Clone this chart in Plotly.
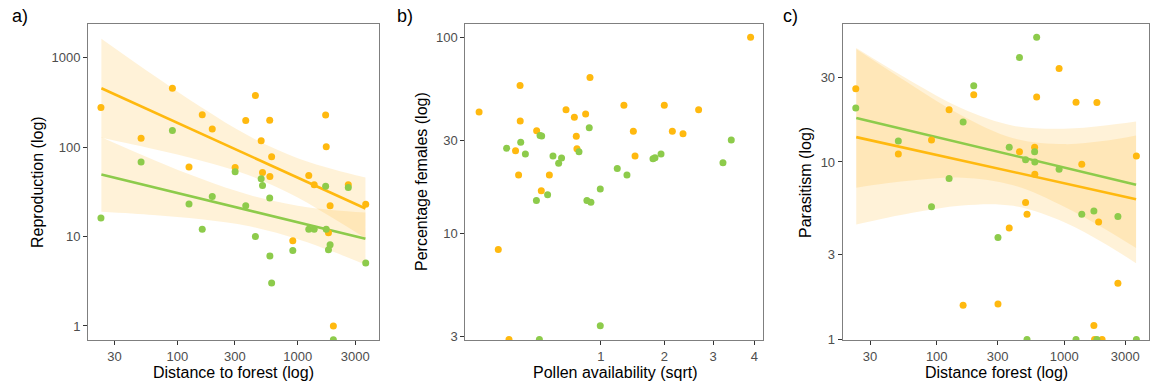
import numpy as np
import plotly.graph_objects as go

# ---------------- data ----------------
# sites (distance to forest, m)
distance = [23.2, 50, 91, 125, 161, 195, 302, 370, 445, 497, 510, 585, 587, 607,
            910, 1235, 1370, 1705, 1725, 1800, 1857, 1977, 2630, 3670]

# panel a: reproduction
repro_orange = [277, 126, 456, 59.8, 230, 159, 59.3, 199, 378, 118, 52.1, 200, 47, 78,
                8.98, 48.2, 37.9, 228, 101, 11.0, 22.1, 1.0, 37.9, 23]
repro_green = [16.1, 68, 153, 23.1, 12.1, 28.1, 53, 22.1, 10, 44.3, 37.3, 26.9, 6.05, 3.02,
               7.0, 12.1, 12.1, 36.4, 12.1, 7.1, 8.1, 0.70, 35.4, 5.06]

# panel c: parasitism
paras_orange = [25.8, 11.1, 13.3, 19.7, 1.56, 23.9, 1.585, 4.25, 11.4, 5.9, 5.07, 12.1, 8.53, 23.2,
                33.6, 21.7, 9.7, 1.2, 1.0, 21.6, 4.59, 1.0, 2.07, 10.8]
paras_green = [20.1, 13.1, 5.6, 8.06, 16.8, 26.9, 3.75, 12.1, 38.7, 10.3, 1.0, 11.4, 10.0, 50.4,
               9.1, 1.0, 5.07, 5.3, None, 1.0, None, None, 4.92, 1.0]

# panel b: pollen availability vs percentage females
pollen_orange = [0.042, 0.109, 0.160, 0.196, 0.214, 0.223, 0.224, 0.337, 0.373, 0.440, 0.596, 0.683,
                 0.704, 0.711, 0.810, 0.862, 1.322, 1.467, 1.494, 1.997, 2.148, 2.357, 2.680, 3.905]
females_orange = [41.7, 8.32, 2.9, 26.5, 19.95, 56.9, 37.5, 33.5, 16.6, 19.95, 42.8, 39.2,
                  31.4, 27.1, 40.8, 62.4, 45.2, 33.3, 24.9, 45.2, 33.3, 32.3, 42.8, 100]
pollen_green = [0.148, 0.227, 0.257, 0.335, 0.358, 0.363, 0.376, 0.425, 0.472, 0.524, 0.552, 0.734,
                0.825, 0.853, 0.873, 0.991, 0.991, 1.224, 1.368, 1.794, 1.829, 1.937, 3.225, 3.423]
females_green = [27.3, 29.3, 25.5, 14.8, 2.9, 31.7, 31.5, 15.8, 24.9, 22.9, 24.3, 26.2,
                 14.8, 34.7, 14.5, 16.9, 3.41, 21.5, 19.95, 24.1, 24.4, 25.5, 23.0, 30.0]

# fitted lines and confidence bands
fit_x = [23.4, 3650]
band_x = [23.4, 63, 158, 398, 1000, 2000, 3650]

fit_a_orange = [455, 20.6]
band_a_orange_hi = [1633, 640, 279, 132, 75.3, 56.2, 45.6]
band_a_orange_lo = [127, 95, 70.6, 48.2, 27.4, 15.8, 9.6]
fit_a_green = [49.3, 9.45]
band_a_green_hi = [129, 72.4, 44.2, 29.1, 22.1, 19.7, 18.6]
band_a_green_lo = [18.9, 17.4, 15.6, 13.0, 9.35, 6.7, 4.85]

fit_c_orange = [13.8, 6.17]
band_c_orange_hi = [43.2, 27.2, 18.2, 13.6, 12.6, 13.1, 14.1]
band_c_orange_lo = [4.44, 5.15, 5.69, 5.66, 4.58, 3.52, 2.69]
fit_c_green = [17.7, 7.45]
band_c_green_hi = [43.8, 28.5, 20.0, 16.0, 15.4, 16.0, 16.9]
band_c_green_lo = [7.16, 7.85, 8.15, 7.40, 5.60, 4.26, 3.27]

dist_ticks = [30, 100, 300, 1000, 3000]
pollen_ticks = [1, 2, 3, 4]

# ---------------- styles ----------------
ORANGE = "#FFB90F"
GREEN = "#8DCB4B"
BAND = "rgba(255,190,60,0.20)"
FONT = "Liberation Sans, Arial, sans-serif"
TICKCOL = "#4D4D4D"
W, H = 1150, 387

fig = go.Figure()


def add_band(xa, ya, xs, lo, hi):
    fig.add_trace(go.Scatter(x=xs, y=lo, mode="lines", line=dict(width=0, shape="spline"),
                             xaxis=xa, yaxis=ya, showlegend=False, hoverinfo="skip"))
    fig.add_trace(go.Scatter(x=xs, y=hi, mode="lines", line=dict(width=0, shape="spline"),
                             fill="tonexty", fillcolor=BAND,
                             xaxis=xa, yaxis=ya, showlegend=False, hoverinfo="skip"))


def add_line(xa, ya, xs, ys, color):
    fig.add_trace(go.Scatter(x=xs, y=ys, mode="lines", line=dict(width=2.6, color=color),
                             xaxis=xa, yaxis=ya, showlegend=False))


def add_pts(xa, ya, xs, ys, color):
    fig.add_trace(go.Scatter(x=xs, y=ys, mode="markers",
                             marker=dict(size=7, color=color, line=dict(width=0)),
                             xaxis=xa, yaxis=ya, showlegend=False))


# panel a
add_band("x", "y", band_x, band_a_orange_lo, band_a_orange_hi)
add_band("x", "y", band_x, band_a_green_lo, band_a_green_hi)
add_line("x", "y", fit_x, fit_a_orange, ORANGE)
add_line("x", "y", fit_x, fit_a_green, GREEN)
add_pts("x", "y", distance, repro_orange, ORANGE)
add_pts("x", "y", distance, repro_green, GREEN)

# panel b
add_pts("x2", "y2", np.sqrt(pollen_orange), females_orange, ORANGE)
add_pts("x2", "y2", np.sqrt(pollen_green), females_green, GREEN)

# panel c
add_band("x3", "y3", band_x, band_c_orange_lo, band_c_orange_hi)
add_band("x3", "y3", band_x, band_c_green_lo, band_c_green_hi)
add_line("x3", "y3", fit_x, fit_c_green, GREEN)
add_line("x3", "y3", fit_x, fit_c_orange, ORANGE)
add_pts("x3", "y3", distance, paras_orange, ORANGE)
add_pts("x3", "y3", distance, paras_green, GREEN)

ydom = [1 - 340 / H, 1 - 24 / H]
common = dict(showline=True, linecolor="#7F7F7F", linewidth=1, mirror=True, showgrid=False,
              zeroline=False, ticks="outside", ticklen=4, tickcolor="#333333", tickwidth=1,
              automargin=False,
              tickfont=dict(family=FONT, size=13, color=TICKCOL))

fig.update_layout(
    template="none",
    width=W, height=H, margin=dict(l=0, r=0, t=0, b=0, pad=0),
    paper_bgcolor="white", plot_bgcolor="white", showlegend=False,
    font=dict(family=FONT),
    xaxis=dict(domain=[88 / W, 379 / W], type="log", range=[1.258, 3.675],
               tickvals=dist_ticks, ticktext=[str(t) for t in dist_ticks], anchor="y", **common),
    yaxis=dict(domain=ydom, type="log", range=[-0.157, 3.377],
               tickvals=[1, 10, 100, 1000], ticktext=["1", "10", "100", "1000"], anchor="x", **common),
    xaxis2=dict(domain=[465.3 / W, 763.3 / W], range=[0.115, 2.059],
                tickvals=list(np.sqrt(pollen_ticks)), ticktext=[str(t) for t in pollen_ticks],
                anchor="y2", **common),
    yaxis2=dict(domain=ydom, type="log", range=[0.46, 2.068],
                tickvals=[3, 10, 30, 100], ticktext=["3", "10", "30", "100"], anchor="x2", **common),
    xaxis3=dict(domain=[842.7 / W, 1149.3 / W], type="log", range=[1.263, 3.666],
                tickvals=dist_ticks, ticktext=[str(t) for t in dist_ticks], anchor="y3", **common),
    yaxis3=dict(domain=ydom, type="log", range=[-0.003, 1.777],
                tickvals=[1, 3, 10, 30], ticktext=["1", "3", "10", "30"], anchor="x3", **common),
)


def ann(text, x, y, size=16, angle=0):
    fig.add_annotation(text=text, x=x / W, y=1 - y / H, xref="paper", yref="paper",
                       showarrow=False, textangle=angle, xanchor="center", yanchor="middle",
                       font=dict(family=FONT, size=size, color="black"))


ann("a)", 20, 16, size=18)
ann("b)", 405, 16, size=18)
ann("c)", 790, 16, size=18)
ann("Reproduction (log)", 37, 182, angle=-90)
ann("Distance to forest (log)", 233.5, 372)
ann("Percentage females (log)", 421, 182, angle=-90)
ann("Pollen availability (sqrt)", 615.5, 372)
ann("Parasitism (log)", 806, 183, angle=-90)
ann("Distance forest (log)", 996.7, 372)

fig.write_html("out.html")
